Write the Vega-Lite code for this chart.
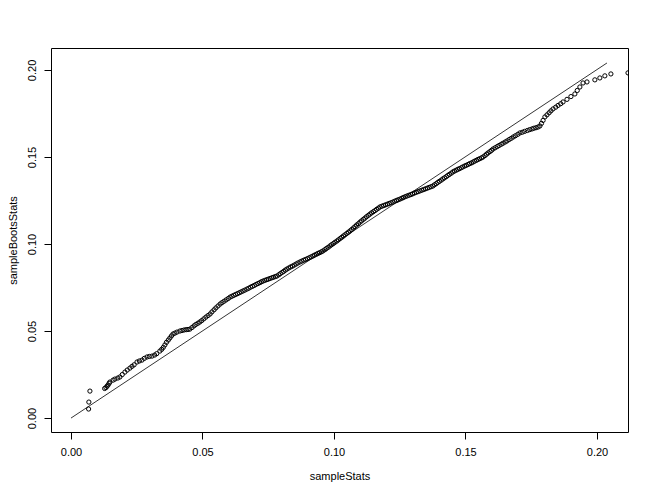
{
  "$schema": "https://vega.github.io/schema/vega-lite/v6.json",
  "width": 577,
  "height": 384,
  "autosize": {"type": "none"},
  "padding": {"left": 51, "top": 48, "right": 26, "bottom": 64},
  "background": "white",
  "config": {
    "font": "Liberation Sans",
    "view": {"stroke": "black", "strokeWidth": 1},
    "axis": {"grid": false, "domain": false, "tickColor": "black", "tickSize": 7, "labelColor": "black", "labelFontSize": 11, "titleFontSize": 11, "titleFontWeight": "normal", "titleColor": "black", "labelFont": "Liberation Sans", "titleFont": "Liberation Sans"}
  },
  "datasets": {
    "pts": [
      {"sampleStats":0.0067,"sampleBootsStats":0.0052},{"sampleStats":0.0068,"sampleBootsStats":0.0092},{"sampleStats":0.0072,"sampleBootsStats":0.0155},
      {"sampleStats":0.0128,"sampleBootsStats":0.0170},{"sampleStats":0.0133,"sampleBootsStats":0.0175},{"sampleStats":0.0137,"sampleBootsStats":0.0183},{"sampleStats":0.0141,"sampleBootsStats":0.0190},{"sampleStats":0.0145,"sampleBootsStats":0.0200},{"sampleStats":0.0148,"sampleBootsStats":0.0207},
      {"sampleStats":0.0160,"sampleBootsStats":0.0218},{"sampleStats":0.0167,"sampleBootsStats":0.0224},{"sampleStats":0.0178,"sampleBootsStats":0.0230},{"sampleStats":0.0186,"sampleBootsStats":0.0236},{"sampleStats":0.0195,"sampleBootsStats":0.0250},{"sampleStats":0.0205,"sampleBootsStats":0.0264},
      {"sampleStats":0.0214,"sampleBootsStats":0.0276},{"sampleStats":0.0224,"sampleBootsStats":0.0287},{"sampleStats":0.0232,"sampleBootsStats":0.0297},{"sampleStats":0.0240,"sampleBootsStats":0.0306},{"sampleStats":0.0251,"sampleBootsStats":0.0322},{"sampleStats":0.0260,"sampleBootsStats":0.0328},
      {"sampleStats":0.0270,"sampleBootsStats":0.0333},{"sampleStats":0.0279,"sampleBootsStats":0.0343},{"sampleStats":0.0289,"sampleBootsStats":0.0351},{"sampleStats":0.0298,"sampleBootsStats":0.0354},{"sampleStats":0.0308,"sampleBootsStats":0.0356},{"sampleStats":0.0318,"sampleBootsStats":0.0362},
      {"sampleStats":0.0326,"sampleBootsStats":0.0370},{"sampleStats":0.0338,"sampleBootsStats":0.0385},{"sampleStats":0.0345,"sampleBootsStats":0.0395},{"sampleStats":0.0351,"sampleBootsStats":0.0406},{"sampleStats":0.0357,"sampleBootsStats":0.0420},{"sampleStats":0.0363,"sampleBootsStats":0.0435},
      {"sampleStats":0.0370,"sampleBootsStats":0.0448},{"sampleStats":0.0376,"sampleBootsStats":0.0460},{"sampleStats":0.0382,"sampleBootsStats":0.0472},{"sampleStats":0.0388,"sampleBootsStats":0.0483},{"sampleStats":0.0395,"sampleBootsStats":0.0488},{"sampleStats":0.0403,"sampleBootsStats":0.0494},
      {"sampleStats":0.0414,"sampleBootsStats":0.0500},{"sampleStats":0.0422,"sampleBootsStats":0.0503},{"sampleStats":0.0430,"sampleBootsStats":0.0506},{"sampleStats":0.0438,"sampleBootsStats":0.0508},{"sampleStats":0.0445,"sampleBootsStats":0.0509},{"sampleStats":0.0452,"sampleBootsStats":0.0511},
      {"sampleStats":0.0460,"sampleBootsStats":0.0520},{"sampleStats":0.0468,"sampleBootsStats":0.0530},{"sampleStats":0.0475,"sampleBootsStats":0.0538},{"sampleStats":0.0483,"sampleBootsStats":0.0545},{"sampleStats":0.0490,"sampleBootsStats":0.0552},{"sampleStats":0.0497,"sampleBootsStats":0.0560},
      {"sampleStats":0.0505,"sampleBootsStats":0.0570},{"sampleStats":0.0513,"sampleBootsStats":0.0580},{"sampleStats":0.0521,"sampleBootsStats":0.0589},{"sampleStats":0.0529,"sampleBootsStats":0.0598},{"sampleStats":0.0536,"sampleBootsStats":0.0610},{"sampleStats":0.0544,"sampleBootsStats":0.0622},
      {"sampleStats":0.0551,"sampleBootsStats":0.0633},{"sampleStats":0.0559,"sampleBootsStats":0.0644},{"sampleStats":0.0567,"sampleBootsStats":0.0655},{"sampleStats":0.0574,"sampleBootsStats":0.0663},{"sampleStats":0.0582,"sampleBootsStats":0.0671},{"sampleStats":0.0590,"sampleBootsStats":0.0679},
      {"sampleStats":0.0598,"sampleBootsStats":0.0687},{"sampleStats":0.0605,"sampleBootsStats":0.0695},{"sampleStats":0.0612,"sampleBootsStats":0.0700},{"sampleStats":0.0619,"sampleBootsStats":0.0705},{"sampleStats":0.0626,"sampleBootsStats":0.0710},{"sampleStats":0.0633,"sampleBootsStats":0.0715},
      {"sampleStats":0.0640,"sampleBootsStats":0.0720},{"sampleStats":0.0647,"sampleBootsStats":0.0725},{"sampleStats":0.0654,"sampleBootsStats":0.0730},{"sampleStats":0.0661,"sampleBootsStats":0.0735},{"sampleStats":0.0669,"sampleBootsStats":0.0741},{"sampleStats":0.0676,"sampleBootsStats":0.0746},
      {"sampleStats":0.0683,"sampleBootsStats":0.0752},{"sampleStats":0.0690,"sampleBootsStats":0.0757},{"sampleStats":0.0697,"sampleBootsStats":0.0762},{"sampleStats":0.0704,"sampleBootsStats":0.0768},{"sampleStats":0.0711,"sampleBootsStats":0.0773},{"sampleStats":0.0718,"sampleBootsStats":0.0778},
      {"sampleStats":0.0724,"sampleBootsStats":0.0783},{"sampleStats":0.0730,"sampleBootsStats":0.0787},{"sampleStats":0.0737,"sampleBootsStats":0.0791},{"sampleStats":0.0744,"sampleBootsStats":0.0795},{"sampleStats":0.0750,"sampleBootsStats":0.0798},{"sampleStats":0.0757,"sampleBootsStats":0.0802},
      {"sampleStats":0.0764,"sampleBootsStats":0.0806},{"sampleStats":0.0770,"sampleBootsStats":0.0809},{"sampleStats":0.0777,"sampleBootsStats":0.0813},{"sampleStats":0.0783,"sampleBootsStats":0.0816},{"sampleStats":0.0790,"sampleBootsStats":0.0823},{"sampleStats":0.0796,"sampleBootsStats":0.0830},
      {"sampleStats":0.0803,"sampleBootsStats":0.0837},{"sampleStats":0.0809,"sampleBootsStats":0.0843},{"sampleStats":0.0815,"sampleBootsStats":0.0850},{"sampleStats":0.0821,"sampleBootsStats":0.0856},{"sampleStats":0.0828,"sampleBootsStats":0.0862},{"sampleStats":0.0835,"sampleBootsStats":0.0868},
      {"sampleStats":0.0842,"sampleBootsStats":0.0873},{"sampleStats":0.0849,"sampleBootsStats":0.0879},{"sampleStats":0.0856,"sampleBootsStats":0.0885},{"sampleStats":0.0863,"sampleBootsStats":0.0891},{"sampleStats":0.0871,"sampleBootsStats":0.0897},{"sampleStats":0.0878,"sampleBootsStats":0.0902},
      {"sampleStats":0.0885,"sampleBootsStats":0.0907},{"sampleStats":0.0892,"sampleBootsStats":0.0911},{"sampleStats":0.0899,"sampleBootsStats":0.0916},{"sampleStats":0.0906,"sampleBootsStats":0.0921},{"sampleStats":0.0913,"sampleBootsStats":0.0926},{"sampleStats":0.0920,"sampleBootsStats":0.0931},
      {"sampleStats":0.0926,"sampleBootsStats":0.0936},{"sampleStats":0.0933,"sampleBootsStats":0.0941},{"sampleStats":0.0939,"sampleBootsStats":0.0946},{"sampleStats":0.0945,"sampleBootsStats":0.0950},{"sampleStats":0.0952,"sampleBootsStats":0.0955},{"sampleStats":0.0958,"sampleBootsStats":0.0960},
      {"sampleStats":0.0965,"sampleBootsStats":0.0967},{"sampleStats":0.0971,"sampleBootsStats":0.0974},{"sampleStats":0.0978,"sampleBootsStats":0.0981},{"sampleStats":0.0985,"sampleBootsStats":0.0989},{"sampleStats":0.0991,"sampleBootsStats":0.0996},{"sampleStats":0.0998,"sampleBootsStats":0.1003},
      {"sampleStats":0.1004,"sampleBootsStats":0.1010},{"sampleStats":0.1011,"sampleBootsStats":0.1017},{"sampleStats":0.1017,"sampleBootsStats":0.1024},{"sampleStats":0.1024,"sampleBootsStats":0.1032},{"sampleStats":0.1030,"sampleBootsStats":0.1039},{"sampleStats":0.1036,"sampleBootsStats":0.1046},
      {"sampleStats":0.1042,"sampleBootsStats":0.1053},{"sampleStats":0.1049,"sampleBootsStats":0.1061},{"sampleStats":0.1055,"sampleBootsStats":0.1068},{"sampleStats":0.1061,"sampleBootsStats":0.1075},{"sampleStats":0.1067,"sampleBootsStats":0.1083},{"sampleStats":0.1074,"sampleBootsStats":0.1092},
      {"sampleStats":0.1080,"sampleBootsStats":0.1100},{"sampleStats":0.1086,"sampleBootsStats":0.1109},{"sampleStats":0.1093,"sampleBootsStats":0.1117},{"sampleStats":0.1099,"sampleBootsStats":0.1126},{"sampleStats":0.1105,"sampleBootsStats":0.1133},{"sampleStats":0.1112,"sampleBootsStats":0.1142},
      {"sampleStats":0.1118,"sampleBootsStats":0.1149},{"sampleStats":0.1124,"sampleBootsStats":0.1157},{"sampleStats":0.1131,"sampleBootsStats":0.1165},{"sampleStats":0.1137,"sampleBootsStats":0.1172},{"sampleStats":0.1143,"sampleBootsStats":0.1179},{"sampleStats":0.1150,"sampleBootsStats":0.1186},
      {"sampleStats":0.1156,"sampleBootsStats":0.1192},{"sampleStats":0.1162,"sampleBootsStats":0.1199},{"sampleStats":0.1169,"sampleBootsStats":0.1206},{"sampleStats":0.1175,"sampleBootsStats":0.1213},{"sampleStats":0.1182,"sampleBootsStats":0.1217},{"sampleStats":0.1189,"sampleBootsStats":0.1221},
      {"sampleStats":0.1196,"sampleBootsStats":0.1225},{"sampleStats":0.1203,"sampleBootsStats":0.1229},{"sampleStats":0.1210,"sampleBootsStats":0.1233},{"sampleStats":0.1217,"sampleBootsStats":0.1237},{"sampleStats":0.1224,"sampleBootsStats":0.1241},{"sampleStats":0.1231,"sampleBootsStats":0.1246},
      {"sampleStats":0.1238,"sampleBootsStats":0.1250},{"sampleStats":0.1244,"sampleBootsStats":0.1254},{"sampleStats":0.1251,"sampleBootsStats":0.1258},{"sampleStats":0.1258,"sampleBootsStats":0.1263},{"sampleStats":0.1264,"sampleBootsStats":0.1267},{"sampleStats":0.1271,"sampleBootsStats":0.1272},
      {"sampleStats":0.1278,"sampleBootsStats":0.1276},{"sampleStats":0.1285,"sampleBootsStats":0.1280},{"sampleStats":0.1292,"sampleBootsStats":0.1284},{"sampleStats":0.1299,"sampleBootsStats":0.1288},{"sampleStats":0.1306,"sampleBootsStats":0.1293},{"sampleStats":0.1313,"sampleBootsStats":0.1297},
      {"sampleStats":0.1320,"sampleBootsStats":0.1301},{"sampleStats":0.1327,"sampleBootsStats":0.1305},{"sampleStats":0.1334,"sampleBootsStats":0.1309},{"sampleStats":0.1341,"sampleBootsStats":0.1313},{"sampleStats":0.1348,"sampleBootsStats":0.1317},{"sampleStats":0.1355,"sampleBootsStats":0.1321},
      {"sampleStats":0.1362,"sampleBootsStats":0.1325},{"sampleStats":0.1369,"sampleBootsStats":0.1329},{"sampleStats":0.1376,"sampleBootsStats":0.1333},{"sampleStats":0.1382,"sampleBootsStats":0.1340},{"sampleStats":0.1389,"sampleBootsStats":0.1347},{"sampleStats":0.1395,"sampleBootsStats":0.1354},
      {"sampleStats":0.1401,"sampleBootsStats":0.1360},{"sampleStats":0.1408,"sampleBootsStats":0.1367},{"sampleStats":0.1414,"sampleBootsStats":0.1374},{"sampleStats":0.1420,"sampleBootsStats":0.1380},{"sampleStats":0.1427,"sampleBootsStats":0.1387},{"sampleStats":0.1433,"sampleBootsStats":0.1394},
      {"sampleStats":0.1439,"sampleBootsStats":0.1400},{"sampleStats":0.1446,"sampleBootsStats":0.1407},{"sampleStats":0.1452,"sampleBootsStats":0.1414},{"sampleStats":0.1458,"sampleBootsStats":0.1419},{"sampleStats":0.1465,"sampleBootsStats":0.1424},{"sampleStats":0.1471,"sampleBootsStats":0.1429},
      {"sampleStats":0.1477,"sampleBootsStats":0.1433},{"sampleStats":0.1484,"sampleBootsStats":0.1438},{"sampleStats":0.1490,"sampleBootsStats":0.1443},{"sampleStats":0.1497,"sampleBootsStats":0.1448},{"sampleStats":0.1503,"sampleBootsStats":0.1452},{"sampleStats":0.1510,"sampleBootsStats":0.1457},
      {"sampleStats":0.1516,"sampleBootsStats":0.1462},{"sampleStats":0.1523,"sampleBootsStats":0.1466},{"sampleStats":0.1529,"sampleBootsStats":0.1471},{"sampleStats":0.1535,"sampleBootsStats":0.1476},{"sampleStats":0.1542,"sampleBootsStats":0.1481},{"sampleStats":0.1548,"sampleBootsStats":0.1486},
      {"sampleStats":0.1554,"sampleBootsStats":0.1490},{"sampleStats":0.1561,"sampleBootsStats":0.1495},{"sampleStats":0.1567,"sampleBootsStats":0.1500},{"sampleStats":0.1574,"sampleBootsStats":0.1508},{"sampleStats":0.1580,"sampleBootsStats":0.1516},{"sampleStats":0.1586,"sampleBootsStats":0.1523},
      {"sampleStats":0.1593,"sampleBootsStats":0.1531},{"sampleStats":0.1599,"sampleBootsStats":0.1538},{"sampleStats":0.1605,"sampleBootsStats":0.1546},{"sampleStats":0.1613,"sampleBootsStats":0.1553},{"sampleStats":0.1621,"sampleBootsStats":0.1560},{"sampleStats":0.1628,"sampleBootsStats":0.1566},
      {"sampleStats":0.1636,"sampleBootsStats":0.1573},{"sampleStats":0.1643,"sampleBootsStats":0.1579},{"sampleStats":0.1651,"sampleBootsStats":0.1586},{"sampleStats":0.1658,"sampleBootsStats":0.1592},{"sampleStats":0.1666,"sampleBootsStats":0.1600},{"sampleStats":0.1674,"sampleBootsStats":0.1607},
      {"sampleStats":0.1682,"sampleBootsStats":0.1615},{"sampleStats":0.1690,"sampleBootsStats":0.1622},{"sampleStats":0.1699,"sampleBootsStats":0.1630},{"sampleStats":0.1707,"sampleBootsStats":0.1638},{"sampleStats":0.1716,"sampleBootsStats":0.1642},{"sampleStats":0.1725,"sampleBootsStats":0.1647},
      {"sampleStats":0.1735,"sampleBootsStats":0.1652},{"sampleStats":0.1744,"sampleBootsStats":0.1657},{"sampleStats":0.1753,"sampleBootsStats":0.1661},{"sampleStats":0.1760,"sampleBootsStats":0.1665},{"sampleStats":0.1768,"sampleBootsStats":0.1668},{"sampleStats":0.1776,"sampleBootsStats":0.1672},
      {"sampleStats":0.1783,"sampleBootsStats":0.1678},{"sampleStats":0.1789,"sampleBootsStats":0.1693},{"sampleStats":0.1795,"sampleBootsStats":0.1710},{"sampleStats":0.1802,"sampleBootsStats":0.1730},{"sampleStats":0.1810,"sampleBootsStats":0.1742},{"sampleStats":0.1818,"sampleBootsStats":0.1754},
      {"sampleStats":0.1825,"sampleBootsStats":0.1765},{"sampleStats":0.1833,"sampleBootsStats":0.1776},{"sampleStats":0.1843,"sampleBootsStats":0.1786},{"sampleStats":0.1852,"sampleBootsStats":0.1796},{"sampleStats":0.1862,"sampleBootsStats":0.1806},{"sampleStats":0.1871,"sampleBootsStats":0.1816},
      {"sampleStats":0.1886,"sampleBootsStats":0.1831},{"sampleStats":0.1901,"sampleBootsStats":0.1847},{"sampleStats":0.1916,"sampleBootsStats":0.1862},{"sampleStats":0.1925,"sampleBootsStats":0.1882},{"sampleStats":0.1935,"sampleBootsStats":0.1902},{"sampleStats":0.1947,"sampleBootsStats":0.1925},
      {"sampleStats":0.1962,"sampleBootsStats":0.1931},{"sampleStats":0.1992,"sampleBootsStats":0.1943},{"sampleStats":0.2011,"sampleBootsStats":0.1954},{"sampleStats":0.2030,"sampleBootsStats":0.1966},{"sampleStats":0.2053,"sampleBootsStats":0.1977},{"sampleStats":0.2118,"sampleBootsStats":0.1983}
    ],
    "ref": [
      {"sampleStats": 0, "sampleBootsStats": 0},
      {"sampleStats": 0.2038, "sampleBootsStats": 0.204}
    ]
  },
  "layer": [
    {
      "data": {"name": "pts"},
      "mark": {"type": "point", "shape": "circle", "filled": false, "stroke": "black", "strokeWidth": 1, "size": 18, "opacity": 1, "clip": true},
      "encoding": {
        "x": {"field": "sampleStats", "type": "quantitative", "scale": {"domain": [-0.0076, 0.2118], "nice": false, "zero": false},
          "axis": {"values": [0, 0.05, 0.1, 0.15, 0.2], "format": ".2f", "title": "sampleStats", "labelPadding": 7, "titleY": 44, "titleBaseline": "middle", "titleX": 288.5}},
        "y": {"field": "sampleBootsStats", "type": "quantitative", "scale": {"domain": [-0.008, 0.2126], "nice": false, "zero": false},
          "axis": {"values": [0, 0.05, 0.1, 0.15, 0.2], "format": ".2f", "title": "sampleBootsStats", "labelAngle": -90, "labelAlign": "center", "labelBaseline": "bottom", "labelPadding": 7, "titleAngle": -90, "titleX": -38, "titleY": 192, "titleBaseline": "middle", "titleAlign": "center"}}
      }
    },
    {
      "data": {"name": "ref"},
      "mark": {"type": "line", "color": "black", "strokeWidth": 0.8},
      "encoding": {
        "x": {"field": "sampleStats", "type": "quantitative"},
        "y": {"field": "sampleBootsStats", "type": "quantitative"}
      }
    }
  ]
}
